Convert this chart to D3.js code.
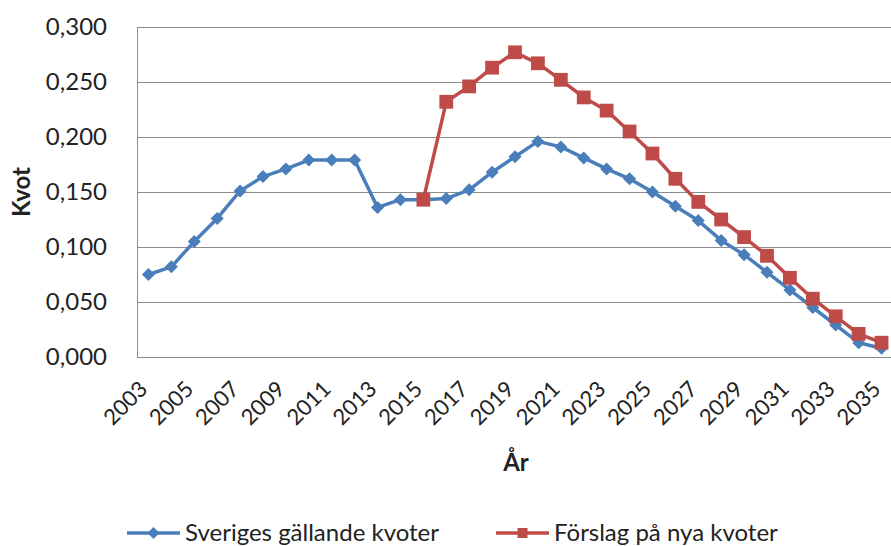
<!DOCTYPE html>
<html>
<head>
<meta charset="utf-8">
<script src="https://cdn.jsdelivr.net/npm/d3@7"></script>
<style>
  body { margin: 0; background: #fff; }
  svg { display: block; font-family: Lato, "Open Sans", sans-serif; }
</style>
</head>
<body>
<svg width="891" height="546"></svg>
<script>
// years on the category axis
var years = d3.range(2003, 2036);

// Sveriges gällande kvoter
var current = [0.075, 0.082, 0.105, 0.126, 0.151, 0.164, 0.171, 0.179, 0.179, 0.179,
               0.136, 0.143, 0.143, 0.144, 0.152, 0.168, 0.182, 0.196, 0.191, 0.181,
               0.171, 0.162, 0.150, 0.137, 0.124, 0.106, 0.093, 0.077, 0.061, 0.045,
               0.029, 0.013, 0.008];

// Förslag på nya kvoter, starts at 2015
var proposalYears = d3.range(2015, 2036);
var proposal = [0.143, 0.232, 0.246, 0.263, 0.277, 0.267, 0.252, 0.236, 0.224, 0.205,
                0.185, 0.162, 0.141, 0.125, 0.109, 0.092, 0.072, 0.053, 0.037, 0.021,
                0.013];

var yTicks = [0, 0.05, 0.1, 0.15, 0.2, 0.25, 0.3];

(function () {
  'use strict';

  var svg = d3.select("svg");
  var plotLeft = 137, plotRight = 893, plotTop = 27, plotBottom = 357;

  var x = d3.scaleBand().domain(years).range([plotLeft, plotRight]).padding(0);
  var y = d3.scaleLinear().domain([0, 0.3]).range([plotBottom, plotTop]);
  var cx = function(d) { return x(d) + x.bandwidth() / 2; };
  var fmt = function(d) { return d3.format(".3f")(d).replace(".", ","); };

  var gray = "#8c8c8c";
  var blue = "#4a7ebb";
  var red = "#be4b48";

  // gridlines
  svg.append("g")
    .selectAll("line")
    .data(yTicks)
    .enter().append("line")
      .attr("x1", plotLeft).attr("x2", plotRight)
      .attr("y1", function(d) { return Math.round(y(d)) + 0.5; })
      .attr("y2", function(d) { return Math.round(y(d)) + 0.5; })
      .attr("stroke", gray);

  // plot frame left side
  svg.append("line")
    .attr("x1", plotLeft + 0.5).attr("x2", plotLeft + 0.5)
    .attr("y1", plotTop).attr("y2", plotBottom)
    .attr("stroke", gray);

  // y axis labels
  var yAxis = d3.axisLeft(y).tickValues(yTicks).tickFormat(fmt).tickSize(0).tickPadding(30);
  svg.append("g")
    .attr("transform", "translate(" + plotLeft + ",0)")
    .call(yAxis)
    .call(function(g) { g.select(".domain").remove(); })
    .selectAll("text")
      .attr("font-family", "Lato, sans-serif")
      .attr("font-size", 24)
      .attr("fill", "#222");

  // x axis labels, every other year
  var xAxis = d3.axisBottom(x).tickValues(years.filter(function(d) { return (d - 2003) % 2 === 0; }))
    .tickSize(0).tickPadding(0);
  svg.append("g")
    .attr("transform", "translate(0," + plotBottom + ")")
    .call(xAxis)
    .call(function(g) { g.select(".domain").remove(); })
    .selectAll("text")
      .attr("font-family", "Lato, sans-serif")
      .attr("font-size", 22)
      .attr("fill", "#222")
      .attr("text-anchor", "end")
      .attr("dy", "0.35em")
      .attr("transform", "translate(-5,28) rotate(-45)");

  // axis titles
  svg.append("text")
    .attr("transform", "translate(30,192) rotate(-90)")
    .attr("text-anchor", "middle")
    .attr("font-size", 24).attr("font-weight", "bold")
    .attr("fill", "#222")
    .text("Kvot");

  svg.append("text")
    .attr("x", 516).attr("y", 471)
    .attr("text-anchor", "middle")
    .attr("font-size", 24).attr("font-weight", "bold")
    .attr("fill", "#222")
    .text("År");

  var line = d3.line().x(function(d) { return cx(d[0]); }).y(function(d) { return y(d[1]); });

  var curData = d3.zip(years, current);
  var propData = d3.zip(proposalYears, proposal);

  // blue series
  svg.append("path")
    .datum(curData)
    .attr("d", line)
    .attr("fill", "none")
    .attr("stroke", blue)
    .attr("stroke-width", 3.5)
    .attr("stroke-linejoin", "round");

  svg.append("g")
    .selectAll("path")
    .data(curData)
    .enter().append("path")
      .attr("d", d3.symbol().type(d3.symbolSquare).size(85))
      .attr("transform", function(d) { return "translate(" + cx(d[0]) + "," + y(d[1]) + ") rotate(45)"; })
      .attr("fill", blue);

  // red series
  svg.append("path")
    .datum(propData)
    .attr("d", line)
    .attr("fill", "none")
    .attr("stroke", red)
    .attr("stroke-width", 3.5)
    .attr("stroke-linejoin", "round");

  svg.append("g")
    .selectAll("path")
    .data(propData)
    .enter().append("path")
      .attr("d", d3.symbol().type(d3.symbolSquare).size(190))
      .attr("transform", function(d) { return "translate(" + cx(d[0]) + "," + y(d[1]) + ")"; })
      .attr("fill", red);

  // legend
  var legend = [
    { name: "Sveriges gällande kvoter", color: blue, x: 127, rot: 45, size: 70 },
    { name: "Förslag på nya kvoter", color: red, x: 496, rot: 0, size: 100 }
  ];

  var lg = svg.append("g")
    .selectAll("g")
    .data(legend)
    .enter().append("g")
      .attr("transform", function(d) { return "translate(" + d.x + ",533)"; });

  lg.append("line")
    .attr("x1", 0).attr("x2", 53)
    .attr("stroke", function(d) { return d.color; })
    .attr("stroke-width", 3.5);

  lg.append("path")
    .attr("d", function(d) { return d3.symbol().type(d3.symbolSquare).size(d.size)(); })
    .attr("transform", function(d) { return "translate(26.5,0) rotate(" + d.rot + ")"; })
    .attr("fill", function(d) { return d.color; });

  lg.append("text")
    .attr("x", 58).attr("y", 0).attr("dy", "0.35em")
    .attr("font-size", 24)
    .attr("fill", "#222")
    .text(function(d) { return d.name; });
}());
</script>
</body>
</html>
